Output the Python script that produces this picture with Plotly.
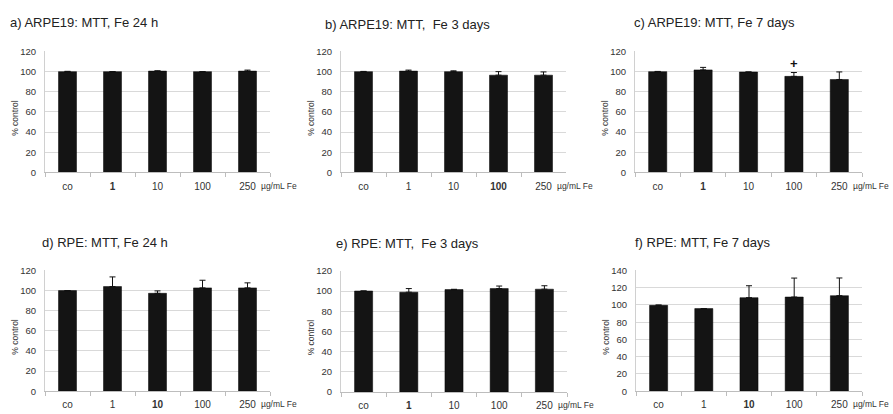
import plotly.graph_objects as go

categories = ["co", "1", "10", "100", "250"]

titles = [
    "a) ARPE19: MTT, Fe 24 h",
    "b) ARPE19: MTT,  Fe 3 days",
    "c) ARPE19: MTT, Fe 7 days",
    "d) RPE: MTT, Fe 24 h",
    "e) RPE: MTT,  Fe 3 days",
    "f) RPE: MTT, Fe 7 days",
]

a_vals = [100, 100, 100.5, 100, 100.5]
a_err = [0.3, 0, 0.3, 0, 1]
b_vals = [100, 100.5, 100, 96.5, 96.5]
b_err = [0.2, 1, 0.8, 3.5, 3.2]
c_vals = [100, 101.7, 99.6, 95.3, 92.2]
c_err = [0.2, 2.5, 0, 3.8, 7.5]
d_vals = [100, 104, 97.3, 102.7, 102.7]
d_err = [0, 9.6, 2.4, 7.6, 5]
e_vals = [100, 98.8, 101.4, 102.4, 101.8]
e_err = [0, 3.6, 0.3, 2.5, 3.4]
f_vals = [99.6, 95.8, 108.5, 109.2, 110.8]
f_err = [0.4, 0, 13.8, 22, 20.5]

series_vals = [a_vals, b_vals, c_vals, d_vals, e_vals, f_vals]
series_err = [a_err, b_err, c_err, d_err, e_err, f_err]
bold_label = ["1", "100", "1", "10", "1", "10"]
y_max = [120, 120, 120, 120, 120, 140]
unit_label = "µg/mL Fe"
y_title = "% control"
marker_text = "+"
marker_cat = "100"
marker_y = 108

W, H = 893, 414
# pixel boxes: (left, right, top, bottom)
boxes = [
    (45, 270, 46.7, 171),
    (341, 566, 46.7, 171),
    (635, 862, 46.7, 171),
    (45, 270, 271.7, 395.7),
    (341, 567, 272, 396.7),
    (636, 862, 271.7, 395.7),
]
title_pos = [(8, 17), (323, 19), (632, 17), (40, 243), (334, 244), (633, 243)]
label_standoff = [5, 5, 5, 4, 4, 4]

fig = go.Figure()
layout = dict(
    width=W, height=H, margin=dict(l=0, r=0, t=0, b=0),
    paper_bgcolor="white", plot_bgcolor="white", showlegend=False,
    font=dict(family="Liberation Sans, Arial, sans-serif", color="#222"),
)
annotations = []

for i in range(6):
    n = i + 1
    xa = "x" if n == 1 else f"x{n}"
    ya = "y" if n == 1 else f"y{n}"
    fig.add_trace(go.Bar(
        x=categories, y=series_vals[i], xaxis=xa, yaxis=ya, width=0.4,
        marker=dict(color="#141414", line=dict(color="#000", width=0.5)),
        error_y=dict(type="data", symmetric=False, array=series_err[i],
                     arrayminus=[0] * 5, color="#111", thickness=1, width=3),
    ))
    l, r, t, b = boxes[i]
    ticktext = [f"<b>{c}</b>" if c == bold_label[i] else c for c in categories]
    layout["xaxis" if n == 1 else f"xaxis{n}"] = dict(
        domain=[l / W, r / W], anchor=ya, type="category",
        categoryorder="array", categoryarray=categories,
        tickvals=categories, ticktext=ticktext,
        showline=True, linecolor="#bdbdbd", linewidth=1,
        ticks="outside", tickson="boundaries", ticklen=4, tickcolor="#bdbdbd",
        ticklabelstandoff=label_standoff[i],
        tickfont=dict(size=10, color="#333"), showgrid=False, fixedrange=True,
    )
    layout["yaxis" if n == 1 else f"yaxis{n}"] = dict(
        domain=[1 - b / H, 1 - t / H], anchor=xa, range=[0, y_max[i]],
        dtick=20, showgrid=True, gridcolor="#d9d9d9", gridwidth=1,
        showline=True, linecolor="#d0d0d0", linewidth=1, zeroline=False,
        ticks="", ticklabelstandoff=6,
        tickfont=dict(size=9.5, color="#333"), fixedrange=True,
    )
    tx, ty = title_pos[i]
    annotations.append(dict(
        text=titles[i], x=tx / W, y=1 - ty / H, xref="paper", yref="paper",
        xanchor="left", yanchor="middle", showarrow=False,
        font=dict(size=13, color="#222"),
    ))
    annotations.append(dict(
        text=y_title, x=(l - 30) / W, y=1 - ((t + b) / 2 + 6) / H,
        xref="paper", yref="paper", textangle=-90, showarrow=False,
        xanchor="center", yanchor="middle", font=dict(size=8.5, color="#333"),
    ))
    annotations.append(dict(
        text=unit_label, x=(r - 11) / W, y=1 - (b + label_standoff[i] + 9) / H,
        xref="paper", yref="paper", xanchor="left", yanchor="middle",
        showarrow=False, font=dict(size=8.5, color="#333"),
    ))

annotations.append(dict(
    text=f"<b>{marker_text}</b>", x=categories.index(marker_cat), y=marker_y,
    xref="x3", yref="y3",
    showarrow=False, yanchor="middle", font=dict(size=13, color="#111"),
))
layout["annotations"] = annotations
fig.update_layout(**layout)
fig.write_html("out.html")
